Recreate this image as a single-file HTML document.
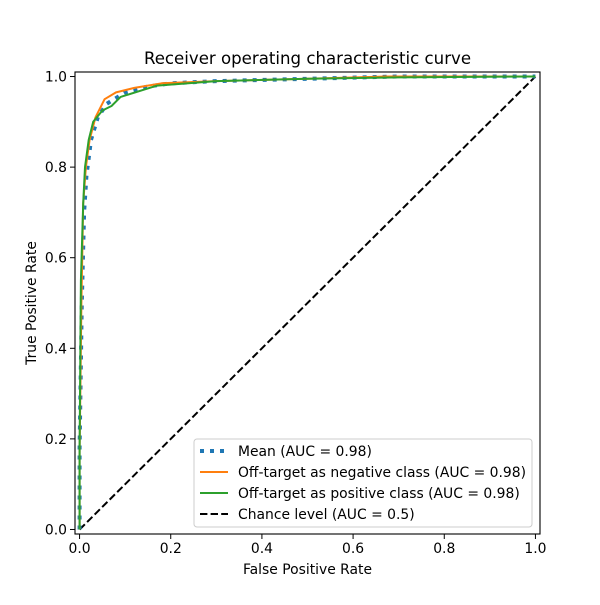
<!DOCTYPE html>
<html><head><meta charset="utf-8"><style>
body{margin:0;background:#fff}
svg text{font-family:"DejaVu Sans","Liberation Sans",sans-serif;fill:#000}
</style></head><body>
<svg id="c" width="600" height="600" xmlns="http://www.w3.org/2000/svg">
<rect width="600" height="600" fill="#fff"/>
<text x="307.5" y="64" font-size="16.6" text-anchor="middle">Receiver operating characteristic curve</text>
<g id="plot"></g>
<text x="307.5" y="574" font-size="13.9" text-anchor="middle">False Positive Rate</text>
<text transform="translate(36,303) rotate(-90)" font-size="13.9" text-anchor="middle">True Positive Rate</text>
</svg>
<script>
const meanFpr=[0,0,0.005,0.01,0.015,0.025,0.04,0.06,0.1,0.15,0.2,0.3,0.5,0.7,1];
const meanTpr=[0,0.18,0.5,0.7,0.78,0.86,0.91,0.94,0.965,0.978,0.985,0.99,0.995,1,1];
const negFpr=[0,0,0.004,0.008,0.014,0.022,0.035,0.055,0.08,0.12,0.18,0.3,0.5,0.67,1];
const negTpr=[0,0.17,0.5,0.72,0.8,0.86,0.91,0.95,0.965,0.975,0.985,0.99,0.995,1,1];
const posFpr=[0,0,0.003,0.008,0.012,0.02,0.03,0.05,0.07,0.09,0.17,0.3,0.5,0.7,1];
const posTpr=[0,0.18,0.55,0.72,0.8,0.86,0.9,0.925,0.935,0.955,0.98,0.99,0.995,0.998,1];
const xTicks=[0,0.2,0.4,0.6,0.8,1.0];
const yTicks=[0,0.2,0.4,0.6,0.8,1.0];
const L=75,R=540,T=72,B=534;
const sx=v=>L+(v+0.01)/1.02*(R-L);
const sy=v=>B-(v+0.01)/1.02*(B-T);
const g=document.getElementById('plot');
const NS='http://www.w3.org/2000/svg';
function mk(t,a){const e=document.createElementNS(NS,t);for(const k in a)e.setAttribute(k,a[k]);g.appendChild(e);return e;}
function line(xs,ys,stroke,w,dash,name){
  const d=xs.map((x,i)=>(i?'L':'M')+sx(x).toFixed(1)+','+sy(ys[i]).toFixed(1)).join('');
  const p=mk('path',{d:d,fill:'none',stroke:stroke,'stroke-width':w,'stroke-linejoin':'round'});
  if(dash)p.setAttribute('stroke-dasharray',dash);
  
  
}
line([0,1],[0,1],'#000',2,'7.4,3.2','chance-line');
line(meanFpr,meanTpr,'#1f77b4',4,'4,6','mean-roc-line');
line(negFpr,negTpr,'#ff7f0e',2,null,'negative-class-roc-line');
line(posFpr,posTpr,'#2ca02c',2,null,'positive-class-roc-line');
const fr=mk('rect',{x:L,y:T,width:R-L,height:B-T,fill:'none',stroke:'#000','stroke-width':1.1});


xTicks.forEach(v=>{
  mk('line',{x1:sx(v),x2:sx(v),y1:B,y2:B+5,stroke:'#000'});
  const t=mk('text',{x:sx(v),y:B+19,'font-size':13.9,'text-anchor':'middle'});t.textContent=v.toFixed(1);
  
  
});
yTicks.forEach(v=>{
  mk('line',{x1:L-5,x2:L,y1:sy(v),y2:sy(v),stroke:'#000'});
  const t=mk('text',{x:L-8,y:sy(v)+5,'font-size':13.9,'text-anchor':'end'});t.textContent=v.toFixed(1);
  
  
});
const lg=mk('rect',{x:194,y:439,width:338,height:88,rx:3,fill:'#fff','fill-opacity':0.8,stroke:'#ccc'});


const items=[['Mean (AUC = 0.98)','#1f77b4',4,'4,6'],['Off-target as negative class (AUC = 0.98)','#ff7f0e',2,null],['Off-target as positive class (AUC = 0.98)','#2ca02c',2,null],['Chance level (AUC = 0.5)','#000',2,'7.4,3.2']];
items.forEach((it,i)=>{
  const y=451+i*21;
  const l=mk('line',{x1:200,x2:228,y1:y,y2:y,stroke:it[1],'stroke-width':it[2]});
  if(it[3])l.setAttribute('stroke-dasharray',it[3]);
  const t=mk('text',{x:238,y:y+5,'font-size':13.9});t.textContent=it[0];
  
  
});
</script>
</body></html>
